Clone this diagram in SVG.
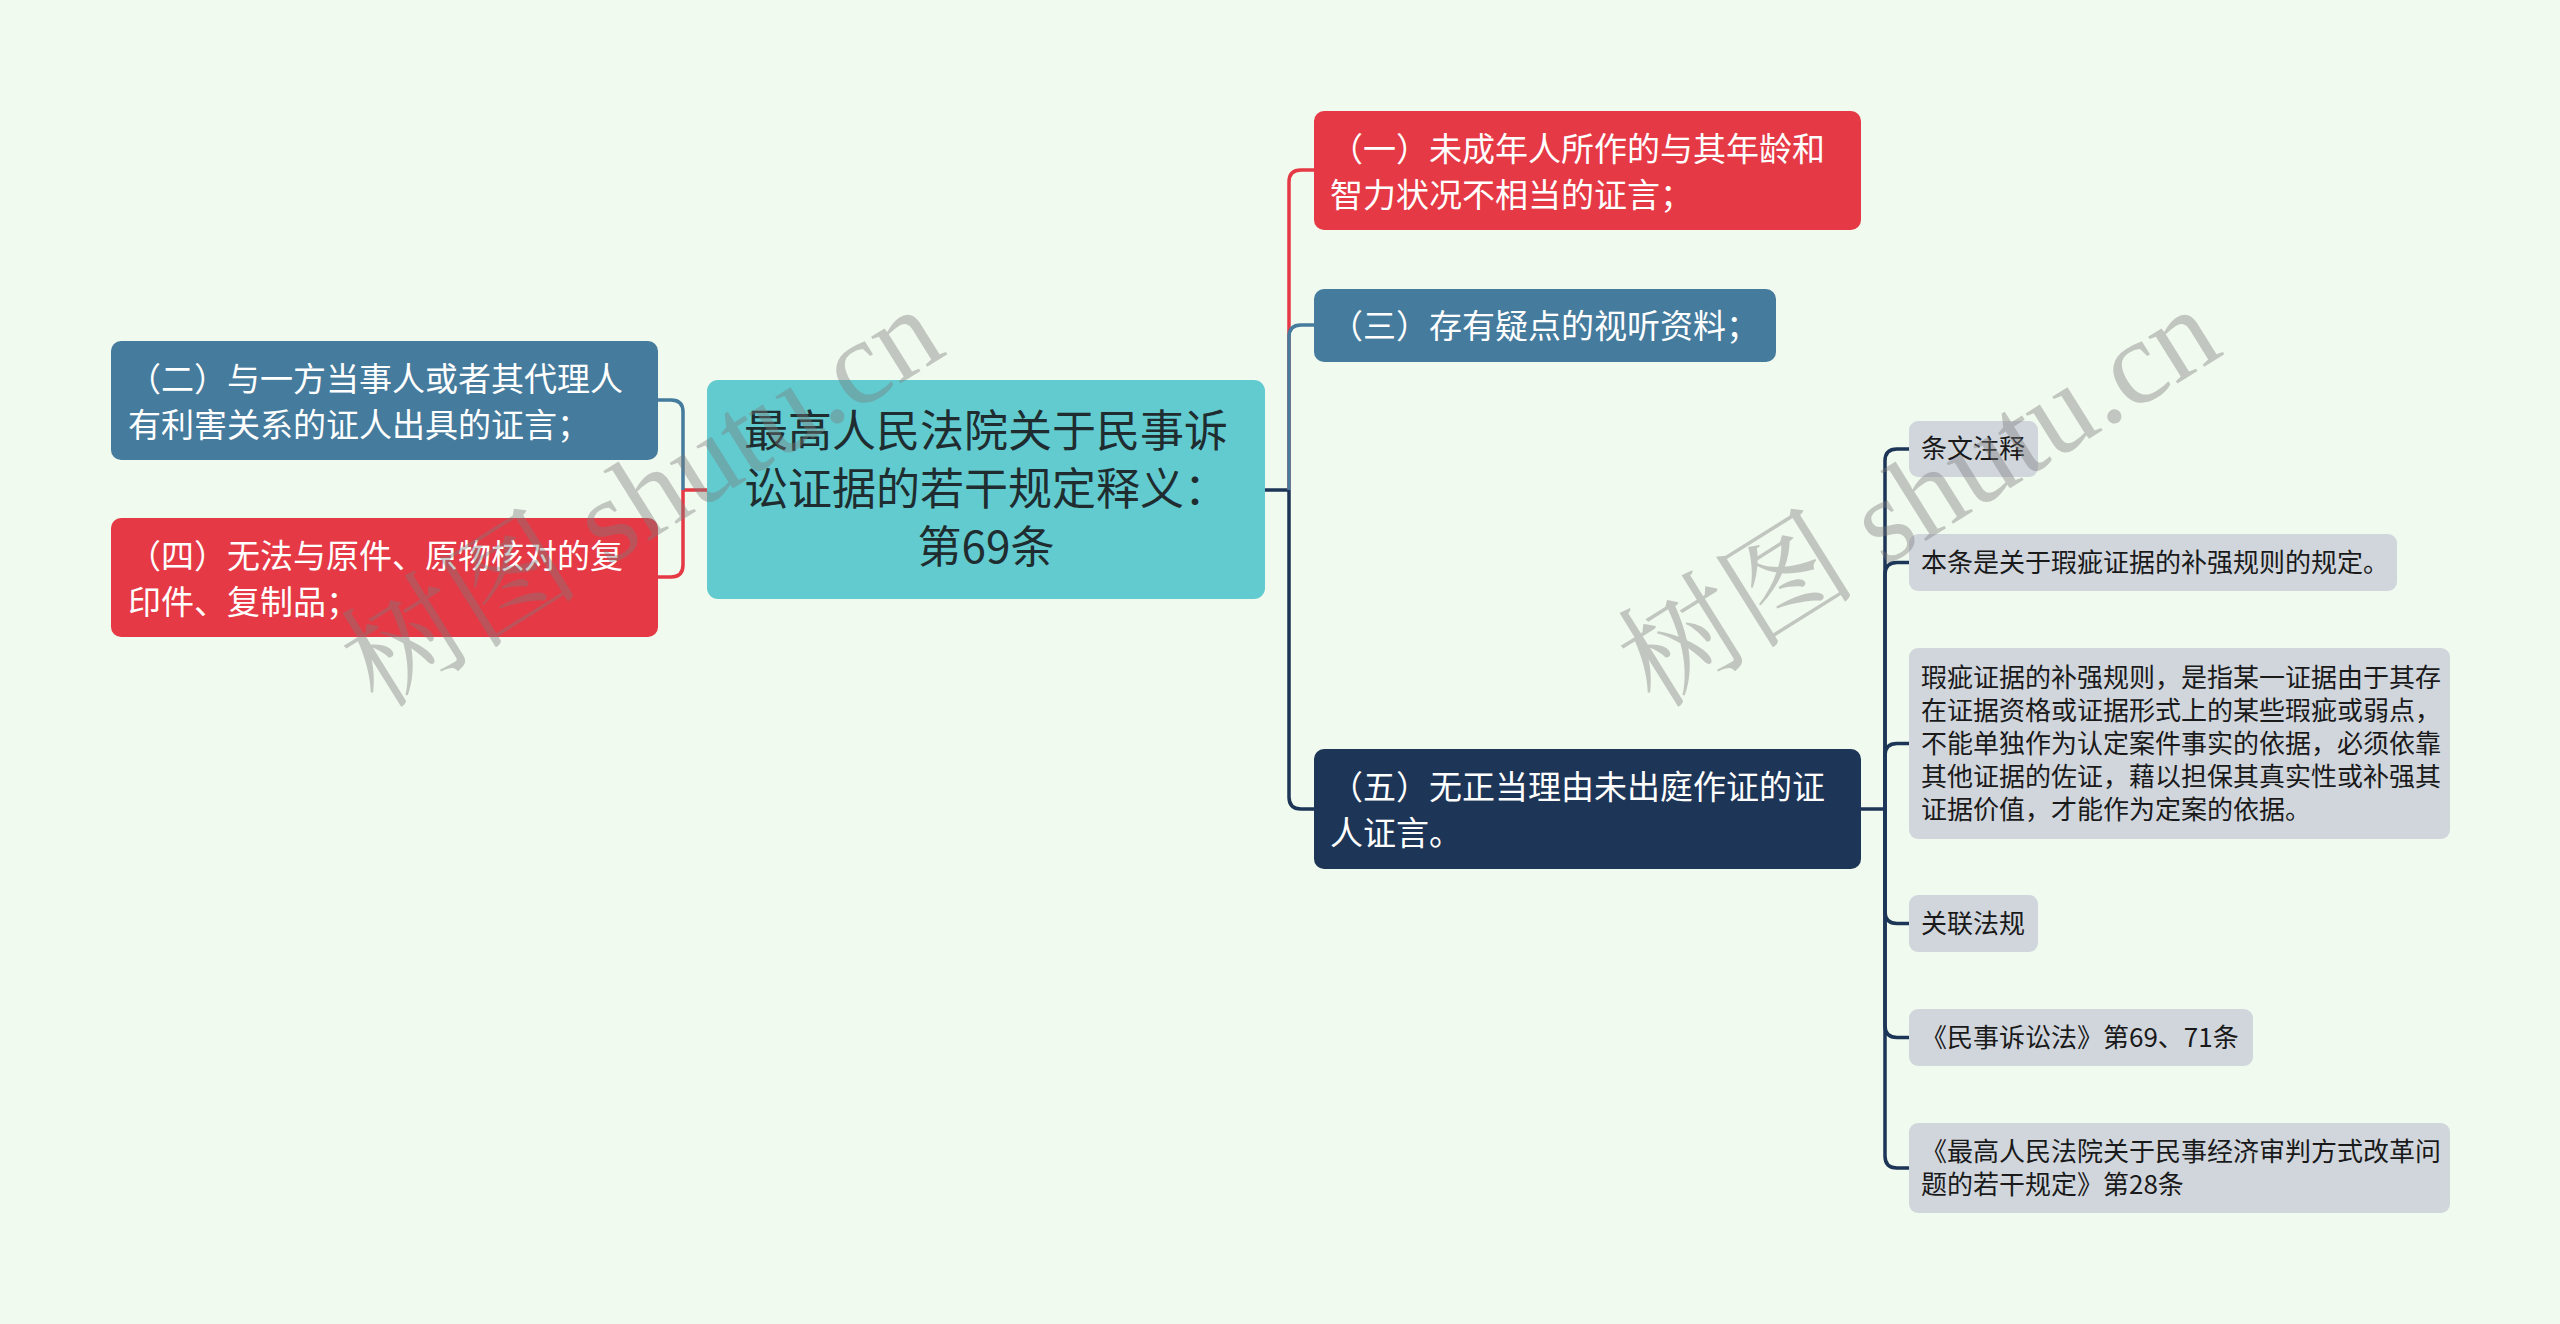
<svg xmlns="http://www.w3.org/2000/svg" width="2560" height="1324" viewBox="0 0 2560 1324">
<style>
.t{font-family:"Noto Sans CJK SC","Noto Sans",sans-serif}
.root{fill:#62cbcf}
.red{fill:#e63946}
.blue{fill:#457b9d}
.navy{fill:#1d3557}
.leaf{fill:#d1d6dd}
.wt{fill:#ffffff;font-size:33px}
.rt{fill:#1f2d30;font-size:44px}
.lt{fill:#1a1a1a;font-size:26px}
.c{fill:none;stroke-width:3.5}
.cr{stroke:#e63946}
.cb{stroke:#457b9d}
.cn{stroke:#1d3557}
.wm{font-family:"Liberation Serif","Noto Serif CJK SC","Noto Sans CJK SC",serif;font-size:120px;fill:#7a7a7a;fill-opacity:0.4}
</style>
<rect width="2560" height="1324" fill="#f1faee"/>
<g id="connectors">
<path class="c cr" d="M707,490 L683,490"/>
<path class="c cb" d="M683,490 L683,412 Q683,400 671,400 L658,400"/>
<path class="c cr" d="M683,490 L683,565 Q683,577 671,577 L658,577"/>
<path class="c cn" d="M1265,490 L1289,490"/>
<path class="c cr" d="M1289,490 L1289,182 Q1289,170 1301,170 L1314,170"/>
<path class="c cb" d="M1289,490 L1289,337 Q1289,325 1301,325 L1314,325"/>
<path class="c cn" d="M1289,490 L1289,797 Q1289,809 1301,809 L1314,809"/>
<path class="c cn" d="M1861,809 L1885,809"/>
<path class="c cn" d="M1885,809 L1885,461 Q1885,449 1897,449 L1909,449"/>
<path class="c cn" d="M1885,809 L1885,574.5 Q1885,562.5 1897,562.5 L1909,562.5"/>
<path class="c cn" d="M1885,809 L1885,755.5 Q1885,743.5 1897,743.5 L1909,743.5"/>
<path class="c cn" d="M1885,809 L1885,911.5 Q1885,923.5 1897,923.5 L1909,923.5"/>
<path class="c cn" d="M1885,809 L1885,1025.5 Q1885,1037.5 1897,1037.5 L1909,1037.5"/>
<path class="c cn" d="M1885,809 L1885,1156 Q1885,1168 1897,1168 L1909,1168"/>
</g>
<g id="root">
<rect class="root" x="707" y="380" width="558" height="219" rx="11"/>
<text class="t rt" x="986" text-anchor="middle"><tspan x="986" y="446.5">最高人民法院关于民事诉</tspan><tspan x="986" y="504.5">讼证据的若干规定释义：</tspan><tspan x="986" y="562.5">第69条</tspan></text>
</g>
<g id="n2">
<rect class="blue" x="111" y="341" width="547" height="119" rx="10"/>
<text class="t wt"><tspan x="128" y="390.5">（二）与一方当事人或者其代理人</tspan><tspan x="128" y="436.5">有利害关系的证人出具的证言；</tspan></text>
</g>
<g id="n4">
<rect class="red" x="111" y="518" width="547" height="119" rx="10"/>
<text class="t wt"><tspan x="128" y="567.5">（四）无法与原件、原物核对的复</tspan><tspan x="128" y="613.5">印件、复制品；</tspan></text>
</g>
<g id="n1">
<rect class="red" x="1314" y="111" width="547" height="119" rx="10"/>
<text class="t wt"><tspan x="1330" y="160.5">（一）未成年人所作的与其年龄和</tspan><tspan x="1330" y="206.5">智力状况不相当的证言；</tspan></text>
</g>
<g id="n3">
<rect class="blue" x="1314" y="289" width="462" height="73" rx="10"/>
<text class="t wt" x="1330" y="338">（三）存有疑点的视听资料；</text>
</g>
<g id="n5">
<rect class="navy" x="1314" y="749" width="547" height="120" rx="10"/>
<text class="t wt"><tspan x="1330" y="799">（五）无正当理由未出庭作证的证</tspan><tspan x="1330" y="845">人证言。</tspan></text>
</g>
<g id="l1">
<rect class="leaf" x="1909" y="421" width="129" height="56" rx="9"/>
<text class="t lt" x="1921" y="458">条文注释</text>
</g>
<g id="l2">
<rect class="leaf" x="1909" y="534" width="488" height="57" rx="9"/>
<text class="t lt" x="1921" y="571.5">本条是关于瑕疵证据的补强规则的规定。</text>
</g>
<g id="l3">
<rect class="leaf" x="1909" y="648" width="541" height="191" rx="9"/>
<text class="t lt"><tspan x="1921" y="686.5">瑕疵证据的补强规则，是指某一证据由于其存</tspan><tspan x="1921" y="719.5">在证据资格或证据形式上的某些瑕疵或弱点，</tspan><tspan x="1921" y="752.5">不能单独作为认定案件事实的依据，必须依靠</tspan><tspan x="1921" y="785.5">其他证据的佐证，藉以担保其真实性或补强其</tspan><tspan x="1921" y="818.5">证据价值，才能作为定案的依据。</tspan></text>
</g>
<g id="l4">
<rect class="leaf" x="1909" y="895" width="129" height="57" rx="9"/>
<text class="t lt" x="1921" y="932.5">关联法规</text>
</g>
<g id="l5">
<rect class="leaf" x="1909" y="1009" width="344" height="57" rx="9"/>
<text class="t lt" x="1921" y="1046.5">《民事诉讼法》第69、71条</text>
</g>
<g id="l6">
<rect class="leaf" x="1909" y="1123" width="541" height="90" rx="9"/>
<text class="t lt"><tspan x="1921" y="1160.5">《最高人民法院关于民事经济审判方式改革问</tspan><tspan x="1921" y="1193.5">题的若干规定》第28条</tspan></text>
</g>
<g id="watermarks">
<text class="wm" transform="translate(378,710) rotate(-32)">树图 shutu.cn</text>
<text class="wm" transform="translate(1655,710) rotate(-32)">树图 shutu.cn</text>
</g>
</svg>
